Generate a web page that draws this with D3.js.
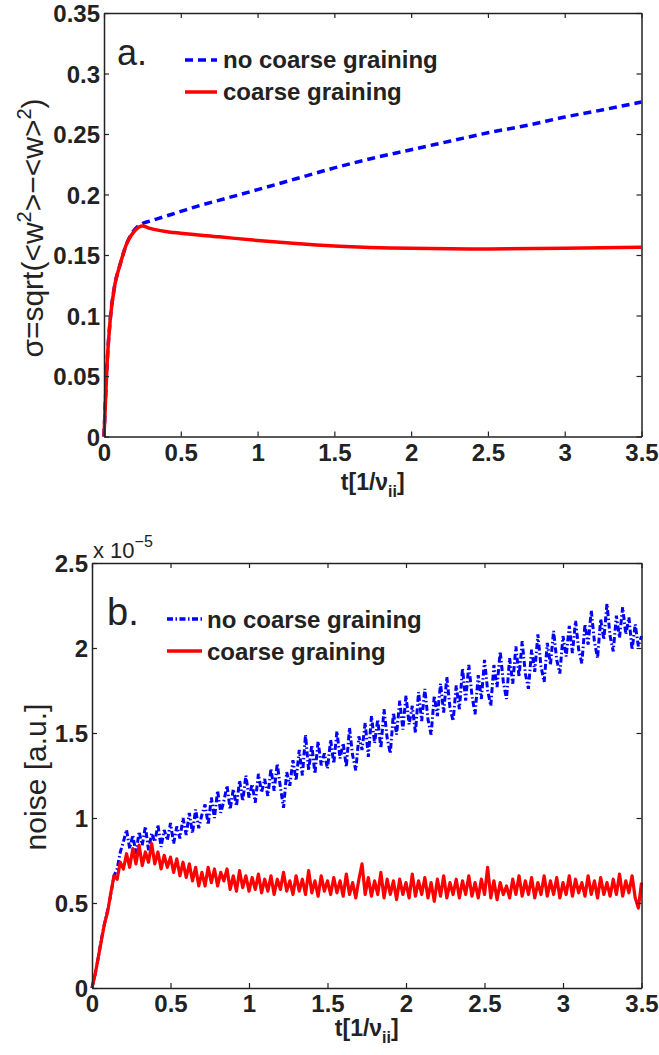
<!DOCTYPE html>
<html>
<head>
<meta charset="utf-8">
<script src="https://cdn.jsdelivr.net/npm/d3@7"></script>
<style>
  body { margin: 0; background: #fff; }
  svg { display: block; }
  text { font-family: "Liberation Sans", Arial, Helvetica, sans-serif; fill: #222; }
</style>
</head>
<body>
<svg id="fig" width="659" height="1055"></svg>
<script>
// ---------- panel a: sigma = sqrt(<w^2> - <w>^2) versus time ----------
const sigmaNoCgT = [0, 0.02, 0.04, 0.07, 0.10, 0.15, 0.20, 0.25, 0.30, 0.40, 0.50, 0.60, 0.80, 1.00, 1.25, 1.50, 1.75, 2.00, 2.25, 2.50, 2.75, 3.00, 3.25, 3.50];
const sigmaNoCg  = [0, 0.060, 0.096, 0.125, 0.140, 0.160, 0.171, 0.176, 0.178, 0.182, 0.186, 0.190, 0.197, 0.204, 0.213, 0.222, 0.230, 0.237, 0.244, 0.251, 0.257, 0.264, 0.270, 0.2765];
const sigmaCgT   = [0, 0.02, 0.04, 0.07, 0.10, 0.15, 0.20, 0.25, 0.30, 0.40, 0.50, 0.75, 1.00, 1.25, 1.50, 2.00, 2.50, 3.00, 3.50];
const sigmaCg    = [0, 0.060, 0.096, 0.125, 0.140, 0.160, 0.170, 0.174, 0.172, 0.1695, 0.168, 0.165, 0.162, 0.1595, 0.1575, 0.1555, 0.155, 0.1555, 0.1565];

const sigmaTicks      = [0, 0.05, 0.10, 0.15, 0.20, 0.25, 0.30, 0.35];
const sigmaTickLabels = ["0", "0.05", "0.1", "0.15", "0.2", "0.25", "0.3", "0.35"];

// ---------- panel b: noise level (units of 1e-5), uniform time grid 0 .. 3.5 ----------
const noiseNoCg = [
  0, 0.08, 0.18, 0.29, 0.38, 0.46, 0.55, 0.66, 0.70, 0.80, 0.86,
  0.93, 0.82, 0.90, 0.79, 0.92, 0.84, 0.95, 0.81, 0.91, 0.86, 0.96, 0.83, 0.93, 0.87, 0.97,
  0.85, 0.95, 0.88, 1.00, 0.90, 1.03, 0.91, 1.05, 0.94, 1.02,
  1.08, 0.96, 1.12, 1.00, 1.16, 1.03, 1.10, 1.19, 1.05, 1.17,
  1.07, 1.22, 1.10, 1.25, 1.12, 1.20, 1.09, 1.26, 1.15, 1.23,
  1.13, 1.29, 1.16, 1.32, 1.18, 1.06, 1.27, 1.19, 1.34, 1.22,
  1.40, 1.25, 1.49, 1.28, 1.43, 1.26, 1.45, 1.31, 1.38, 1.29,
  1.46, 1.32, 1.51, 1.35, 1.44, 1.30, 1.53, 1.37, 1.28, 1.48,
  1.40, 1.56, 1.36, 1.60, 1.44, 1.58, 1.41, 1.64, 1.47, 1.38,
  1.62, 1.49, 1.69, 1.52, 1.72, 1.55, 1.66, 1.50, 1.74, 1.57,
  1.76, 1.58, 1.49, 1.72, 1.60, 1.79, 1.62, 1.83, 1.65, 1.57,
  1.78, 1.64, 1.88, 1.69, 1.90, 1.72, 1.61, 1.84, 1.70, 1.93,
  1.75, 1.66, 1.90, 1.77, 1.98, 1.80, 1.70, 1.94, 1.79, 2.01,
  1.83, 2.04, 1.85, 1.76, 1.99, 1.86, 2.08, 1.89, 1.80, 2.03,
  1.90, 2.10, 1.93, 1.85, 2.07, 1.95, 2.13, 1.97, 2.16, 1.99,
  1.91, 2.14, 2.02, 2.22, 2.04, 1.94, 2.17, 2.05, 2.26, 2.07,
  1.98, 2.19, 2.06, 2.24, 2.08, 2.18, 1.99, 2.14, 2.01, 2.07
];
const noiseCg = [
  0, 0.08, 0.18, 0.28, 0.38, 0.45, 0.56, 0.66, 0.64, 0.74, 0.70,
  0.79, 0.71, 0.82, 0.73, 0.84, 0.72, 0.80, 0.74, 0.85, 0.73, 0.80, 0.70, 0.78, 0.71, 0.77,
  0.68, 0.76, 0.66, 0.74, 0.65, 0.73, 0.63, 0.71, 0.60, 0.68,
  0.60, 0.71, 0.62, 0.70, 0.60, 0.68, 0.63, 0.70, 0.58, 0.66,
  0.57, 0.69, 0.59, 0.66, 0.57, 0.65, 0.58, 0.67, 0.56, 0.64,
  0.57, 0.66, 0.55, 0.64, 0.58, 0.68, 0.57, 0.63, 0.55, 0.66,
  0.57, 0.64, 0.55, 0.69, 0.56, 0.63, 0.54, 0.66, 0.57, 0.63,
  0.55, 0.65, 0.56, 0.63, 0.54, 0.67, 0.55, 0.62, 0.53, 0.64,
  0.73, 0.55, 0.65, 0.54, 0.63, 0.55, 0.68, 0.53, 0.64, 0.55,
  0.63, 0.52, 0.64, 0.55, 0.62, 0.53, 0.67, 0.54, 0.63, 0.55,
  0.65, 0.53, 0.62, 0.51, 0.64, 0.54, 0.66, 0.53, 0.62, 0.55,
  0.64, 0.53, 0.63, 0.55, 0.66, 0.54, 0.62, 0.53, 0.64, 0.55,
  0.71, 0.53, 0.63, 0.52, 0.62, 0.55, 0.60, 0.53, 0.64, 0.55,
  0.66, 0.54, 0.63, 0.55, 0.65, 0.53, 0.62, 0.55, 0.66, 0.54,
  0.63, 0.55, 0.65, 0.53, 0.62, 0.55, 0.66, 0.54, 0.64, 0.56,
  0.62, 0.54, 0.66, 0.55, 0.63, 0.53, 0.65, 0.55, 0.62, 0.54,
  0.64, 0.55, 0.67, 0.54, 0.63, 0.56, 0.66, 0.53, 0.47, 0.62
];

const noiseTicks      = [0, 0.5, 1, 1.5, 2, 2.5];
const noiseTickLabels = ["0", "0.5", "1", "1.5", "2", "2.5"];

const timeTicks      = [0, 0.5, 1, 1.5, 2, 2.5, 3, 3.5];
const timeTickLabels = ["0", "0.5", "1", "1.5", "2", "2.5", "3", "3.5"];

const legendLabels = ["no coarse graining", "coarse graining"];

// ---------- drawing ----------
const svg = d3.select("#fig");
const BLUE = "#0000ff", RED = "#ff0000", INK = "#222";

function makePanel(box, yMax, yTicks, yTickLabels) {
  const x = d3.scaleLinear().domain([0, 3.5]).range([box.left, box.right]);
  const y = d3.scaleLinear().domain([0, yMax]).range([box.bottom, box.top]);
  return { x, y, box, yTicks, yTickLabels };
}

function drawAxes(p) {
  const g = svg.append("g");
  const { x, y, box } = p;
  const bottom = d3.axisBottom(x).tickValues(timeTicks).tickFormat((d, i) => timeTickLabels[i])
    .tickSizeInner(-5).tickSizeOuter(0).tickPadding(7);
  const left = d3.axisLeft(y).tickValues(p.yTicks).tickFormat((d, i) => p.yTickLabels[i])
    .tickSizeInner(-5).tickSizeOuter(0).tickPadding(4);
  const top = d3.axisTop(x).tickValues(timeTicks).tickFormat("").tickSizeInner(-5).tickSizeOuter(0);
  const right = d3.axisRight(y).tickValues(p.yTicks).tickFormat("").tickSizeInner(-5).tickSizeOuter(0);

  g.append("g").attr("transform", `translate(0,${box.bottom})`).call(bottom);
  const gl = g.append("g").attr("transform", `translate(${box.left},0)`).call(left);
  g.append("g").attr("transform", `translate(0,${box.top})`).call(top);
  g.append("g").attr("transform", `translate(${box.right},0)`).call(right);

  g.selectAll(".domain").attr("stroke", INK).attr("stroke-width", 1.5);
  g.selectAll(".tick line").attr("stroke", INK).attr("stroke-width", 1.2);
  g.selectAll(".tick text")
    .attr("fill", INK)
    .style("font-size", "24px")
    .style("font-weight", "bold");
  gl.selectAll(".tick text").attr("dy", "0.36em");
}

function timeLabel(cx, baseline) {
  const t = svg.append("text")
    .attr("x", cx).attr("y", baseline)
    .attr("text-anchor", "middle")
    .style("font-size", "23px").style("font-weight", "bold");
  t.append("tspan").text("t[1/\u03bd");
  t.append("tspan").attr("dy", 7).style("font-size", "16px").text("ii");
  t.append("tspan").attr("dy", -7).text("]");
}

function legend(lx0, lx1, rows, dashes) {
  rows.forEach((r, i) => {
    svg.append("line")
      .attr("x1", lx0).attr("x2", lx1).attr("y1", r.ly).attr("y2", r.ly)
      .attr("stroke", i === 0 ? BLUE : RED)
      .attr("stroke-width", 3.5)
      .attr("stroke-dasharray", i === 0 ? dashes : null);
    svg.append("text")
      .attr("x", r.tx).attr("y", r.ty)
      .style("font-size", "24px").style("font-weight", "bold")
      .text(legendLabels[i]);
  });
}

// ----- panel a -----
const pa = makePanel({ left: 104, right: 641.5, top: 13, bottom: 436.5 }, 0.35, sigmaTicks, sigmaTickLabels);
const lineA = (ts) => d3.line().x((d, i) => pa.x(ts[i])).y(d => pa.y(d)).curve(d3.curveMonotoneX);

svg.append("path").attr("d", lineA(sigmaNoCgT)(sigmaNoCg))
  .attr("fill", "none").attr("stroke", BLUE).attr("stroke-width", 3.5)
  .attr("stroke-dasharray", "8,5");
svg.append("path").attr("d", lineA(sigmaCgT)(sigmaCg))
  .attr("fill", "none").attr("stroke", RED).attr("stroke-width", 3.5);

drawAxes(pa);
timeLabel(372.75, 490);

svg.append("text").attr("x", 117).attr("y", 65)
  .style("font-size", "36px").text("a.");
legend(185, 217, [{ ly: 60, tx: 223, ty: 68 }, { ly: 92, tx: 223, ty: 100 }], "8,5");

// sigma axis title
(function () {
  const t = svg.append("text")
    .attr("transform", "translate(43,228) rotate(-90)")
    .attr("text-anchor", "middle")
    .style("font-size", "30px");
  t.append("tspan").text("\u03c3=sqrt(<w");
  t.append("tspan").attr("dy", -12).style("font-size", "20px").text("2");
  t.append("tspan").attr("dy", 12).text(">\u2212<w>");
  t.append("tspan").attr("dy", -12).style("font-size", "20px").text("2");
  t.append("tspan").attr("dy", 12).text(")");
})();

// ----- panel b -----
const pb = makePanel({ left: 92, right: 641.5, top: 563, bottom: 988 }, 2.5, noiseTicks, noiseTickLabels);
const lineB = (n) => d3.line().x((d, i) => pb.x(i * 3.5 / (n - 1))).y(d => pb.y(d));

svg.append("path").attr("d", lineB(noiseNoCg.length)(noiseNoCg))
  .attr("fill", "none").attr("stroke", BLUE).attr("stroke-width", 3)
  .attr("stroke-dasharray", "6,2.5,1.5,2.5");
svg.append("path").attr("d", lineB(noiseCg.length)(noiseCg))
  .attr("fill", "none").attr("stroke", RED).attr("stroke-width", 3.2)
  .attr("stroke-linejoin", "round");

drawAxes(pb);
timeLabel(366.75, 1036);

// exponent of the noise axis
(function () {
  const t = svg.append("text").attr("x", 93).attr("y", 558).style("font-size", "22px");
  t.append("tspan").text("x 10");
  t.append("tspan").attr("dy", -11).style("font-size", "16px").text("\u22125");
})();

svg.append("text").attr("x", 107).attr("y", 625)
  .style("font-size", "38px").text("b.");
legend(167, 202, [{ ly: 619, tx: 207, ty: 628 }, { ly: 651, tx: 207, ty: 660 }], "6,2.5,1.5,2.5");

svg.append("text")
  .attr("transform", "translate(46,777) rotate(-90)")
  .attr("text-anchor", "middle")
  .style("font-size", "30px")
  .text("noise [a.u.]");
</script>
</body>
</html>
